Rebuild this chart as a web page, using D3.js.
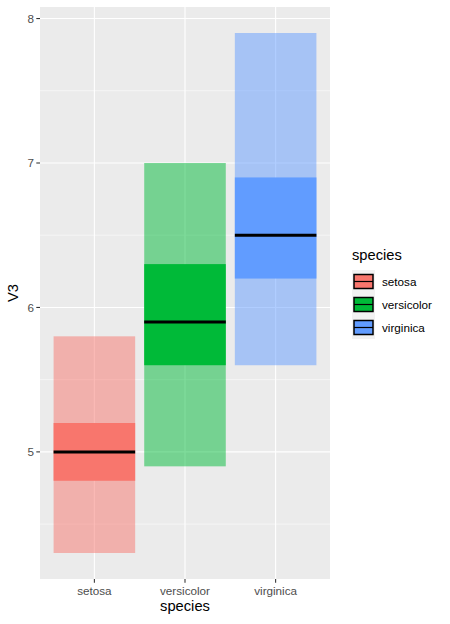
<!DOCTYPE html>
<html lang="en">
<head>
    <meta charset="UTF-8">
    <title>crossbar</title>
    <style>
        body { margin: 0; background: white; }
        text { font-family: "Liberation Sans", Arial, sans-serif; }
    </style>
    <script src="https://d3js.org/d3.v7.min.js"></script>
</head>
<body>
<script>

    // data
    let species = ["setosa", "versicolor", "virginica"]
    let lowVals = [4.3, 4.9, 5.6]
    let q1Vals = [4.8, 5.6, 6.2]
    let medVals = [5.0, 5.9, 6.5]
    let q3Vals = [5.2, 6.3, 6.9]
    let highVals = [5.8, 7.0, 7.9]
    let colors = ["#F8766D", "#00BA38", "#619CFF"]
    let yTicks = [5, 6, 7, 8]
    let yMinor = [4.5, 5.5, 6.5, 7.5]

    let width = 450, height = 624
    let panel = {left: 40, top: 7, right: 330, bottom: 579}

    let svg = d3.select("body").append("svg")
        .attr("width", width).attr("height", height)

    let yScale = d3.scaleLinear()
        .domain([4.12, 8.08])
        .range([panel.bottom, panel.top])

    // ggplot: discrete expand of 0.6 on each side
    let xPos = d3.scaleLinear().domain([0.4, 3.6]).range([panel.left, panel.right])
    let unit = xPos(2) - xPos(1)
    let boxW = unit * 0.9

    svg.append("rect")
        .attr("x", panel.left).attr("y", panel.top)
        .attr("width", panel.right - panel.left).attr("height", panel.bottom - panel.top)
        .attr("fill", "#EBEBEB")

    let grid = svg.append("g")
    grid.selectAll(".minor").data(yMinor).enter().append("line")
        .attr("x1", panel.left).attr("x2", panel.right)
        .attr("y1", d => yScale(d)).attr("y2", d => yScale(d))
        .attr("stroke", "white").attr("stroke-width", 0.53)
    grid.selectAll(".major").data(yTicks).enter().append("line")
        .attr("x1", panel.left).attr("x2", panel.right)
        .attr("y1", d => yScale(d)).attr("y2", d => yScale(d))
        .attr("stroke", "white").attr("stroke-width", 1.07)
    grid.selectAll(".vmajor").data(species).enter().append("line")
        .attr("x1", (d, i) => xPos(i + 1)).attr("x2", (d, i) => xPos(i + 1))
        .attr("y1", panel.top).attr("y2", panel.bottom)
        .attr("stroke", "white").attr("stroke-width", 1.07)

    let bars = svg.append("g")
    species.forEach(function (s, i) {
        let cx = xPos(i + 1)
        bars.append("rect")
            .attr("x", cx - boxW / 2).attr("width", boxW)
            .attr("y", yScale(highVals[i])).attr("height", yScale(lowVals[i]) - yScale(highVals[i]))
            .attr("fill", colors[i]).attr("fill-opacity", 0.5)
        bars.append("rect")
            .attr("x", cx - boxW / 2).attr("width", boxW)
            .attr("y", yScale(q3Vals[i])).attr("height", yScale(q1Vals[i]) - yScale(q3Vals[i]))
            .attr("fill", colors[i])
        bars.append("line")
            .attr("x1", cx - boxW / 2).attr("x2", cx + boxW / 2)
            .attr("y1", yScale(medVals[i])).attr("y2", yScale(medVals[i]))
            .attr("stroke", "black").attr("stroke-width", 3)
    })

    // axes
    let yAxis = svg.append("g")
    yAxis.selectAll("line").data(yTicks).enter().append("line")
        .attr("x1", panel.left - 3.7).attr("x2", panel.left)
        .attr("y1", d => yScale(d)).attr("y2", d => yScale(d))
        .attr("stroke", "#333333").attr("stroke-width", 1.07)
    yAxis.selectAll("text").data(yTicks).enter().append("text")
        .attr("x", panel.left - 6).attr("y", d => yScale(d))
        .attr("dy", "0.35em").attr("text-anchor", "end")
        .attr("font-size", "11.7px").attr("fill", "#4D4D4D")
        .text(d => d)

    let xAxis = svg.append("g")
    xAxis.selectAll("line").data(species).enter().append("line")
        .attr("x1", (d, i) => xPos(i + 1)).attr("x2", (d, i) => xPos(i + 1))
        .attr("y1", panel.bottom).attr("y2", panel.bottom + 3.7)
        .attr("stroke", "#333333").attr("stroke-width", 1.07)
    xAxis.selectAll("text").data(species).enter().append("text")
        .attr("x", (d, i) => xPos(i + 1)).attr("y", panel.bottom + 16)
        .attr("text-anchor", "middle")
        .attr("font-size", "11.7px").attr("fill", "#4D4D4D")
        .text(d => d)

    svg.append("text")
        .attr("x", (panel.left + panel.right) / 2).attr("y", 611)
        .attr("text-anchor", "middle").attr("font-size", "14.7px").attr("fill", "black")
        .text("species")
    svg.append("text")
        .attr("transform", "translate(18," + ((panel.top + panel.bottom) / 2) + ") rotate(-90)")
        .attr("text-anchor", "middle").attr("font-size", "14.7px").attr("fill", "black")
        .text("V3")

    // legend
    let legend = svg.append("g").attr("transform", "translate(352,0)")
    legend.append("text")
        .attr("x", 0).attr("y", 260)
        .attr("font-size", "14.7px").attr("fill", "black")
        .text("species")
    legend.append("rect")
        .attr("x", 0).attr("y", 270).attr("width", 23).attr("height", 69)
        .attr("fill", "#F2F2F2")
    species.forEach(function (s, i) {
        let ky = 270 + i * 23
        legend.append("rect")
            .attr("x", 2).attr("y", ky + 4.5).attr("width", 19).attr("height", 14)
            .attr("fill", colors[i]).attr("stroke", "black").attr("stroke-width", 1.5)
        legend.append("line")
            .attr("x1", 2).attr("x2", 21).attr("y1", ky + 11.5).attr("y2", ky + 11.5)
            .attr("stroke", "black").attr("stroke-width", 1.2)
        legend.append("text")
            .attr("x", 30).attr("y", ky + 11.5).attr("dy", "0.35em")
            .attr("font-size", "11.7px").attr("fill", "black")
            .text(s)
    })

</script>
</body>
</html>
